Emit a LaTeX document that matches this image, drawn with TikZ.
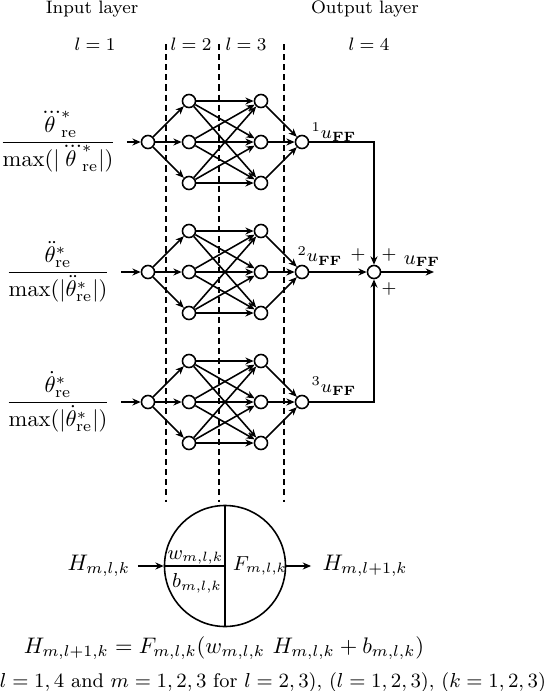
\documentclass[tikz,border=0pt]{standalone}
\usepackage{amsmath}
\usepackage{amssymb}
\usepackage{tikz}
\usetikzlibrary{arrows.meta,positioning,calc}

\begin{document}
\begin{tikzpicture}[x=0.015625cm, y=-0.015625cm,
  neuron/.style={draw, circle, line width=0.7pt, fill=white, inner sep=0pt, minimum size=5.8pt},
  ratio/.style={inner sep=0pt, anchor=base},
  layertxt/.style={font=\footnotesize},
  outlbl/.style={font=\footnotesize},
  pm/.style={font=\footnotesize, inner sep=0pt},
  cellbox/.style={draw, circle, line width=0.7pt, inner sep=0pt, minimum size=53.8pt},
  flow/.style={-{Stealth[length=1.3mm, width=1.1mm]}, line width=0.7pt},
  divider/.style={dash pattern=on 2.7pt off 1.8pt, line width=0.6pt},
  wire/.style={line width=0.7pt},
]
  \useasboundingbox (0,0) rectangle (548,691);

  % layer headings and dashed separators
  \node[layertxt] (inl) at (92,9) {Input layer};
  \node[layertxt] (outl) at (365,9) {Output layer};
  \node[layertxt] (l1) at (95,44) {$l=1$};
  \node[layertxt] (l2) at (191,44) {$l=2$};
  \node[layertxt] (l3) at (246,44) {$l=3$};
  \node[layertxt] (l4) at (369,44) {$l=4$};
  \foreach \x [count=\n] in {166,219,284} {
    \coordinate (top\n) at (\x,44);
    \coordinate (bot\n) at (\x,502);
    \draw[divider] (top\n) -- (bot\n);
  }

  % the three networks
  \foreach \k/\cy/\acc in {1/142/\dddot, 2/272/\ddot, 3/402/\dot} {
    \node[ratio] (x\k) at ([yshift=-2.5pt]58,\cy)
      {$\dfrac{\acc{\theta}^*_{\mathrm{re}}}{\max(|\acc{\theta}^*_{\mathrm{re}}|)}$};
    \node[neuron] (i\k) at (148,\cy) {};
    \foreach \j/\dy in {1/-41,2/0,3/41} {
      \node[neuron] (h\k\j) at (189,{\cy+\dy}) {};
      \node[neuron] (g\k\j) at (261,{\cy+\dy}) {};
    }
    \node[neuron] (o\k) at (302,\cy) {};
    \draw[flow] ([xshift=4.7pt]x\k.east |- i\k) -- (i\k);
    \foreach \j in {1,2,3} {
      \draw[flow] (i\k) -- (h\k\j);
      \draw[flow] (g\k\j) -- (o\k);
      \foreach \jj in {1,2,3}
        \draw[flow] (h\k\j) -- (g\k\jj);
    }
  }

  % summation
  \node[outlbl] (u1) at (334,132) {$^1u_{\mathbf{FF}}$};
  \node[outlbl] (u2) at (320,256) {$^2u_{\mathbf{FF}}$};
  \node[outlbl] (u3) at (334,386) {$^3u_{\mathbf{FF}}$};
  \node[neuron] (s) at (374,272) {};
  \draw[flow] (o1) -| (s);
  \draw[flow] (o2) -- (s);
  \draw[flow] (o3) -| (s);
  \coordinate (ue) at (434,272);
  \draw[flow] (s) -- (ue);
  \node[font=\small] (uff) at (422,261) {$u_{\mathbf{FF}}$};
  \node[pm] (p1) at (358,255) {$+$};
  \node[pm] (p2) at (389,255) {$+$};
  \node[pm] (p3) at (389,289) {$+$};

  % single neuron
  \node[cellbox] (cell) at (225,566) {};
  \draw[wire] (cell.north) -- (cell.south);
  \draw[wire] (cell.west) -- (cell.center);
  \node[font=\small, anchor=south east, inner sep=0.6pt] (w) at (cell.center) {$w_{m,l,k}$};
  \node[font=\small, anchor=north east, inner sep=1.2pt] (b) at ([yshift=-2pt]cell.center) {$b_{m,l,k}$};
  \node[font=\small, anchor=west] (F) at (cell.center) {$F_{m,l,k}$};
  \node[left=11.5pt of cell] (hin) {$H_{m,l,k}$};
  \node[right=11pt of cell, inner sep=4.9pt] (hout) {$H_{m,l+1,k}$};
  \draw[flow] (hin) -- (cell);
  \draw[flow] (cell) -- (hout);

  \node (eq) at (224,648) {$H_{m,l+1,k} = F_{m,l,k}(w_{m,l,k}\ H_{m,l,k} + b_{m,l,k})$};
  \node[font=\fontsize{8.8}{10}\selectfont] (rng) at (273,683) {$l=1,4$ and $m=1,2,3$ for $l=2,3$), ($l=1,2,3$), ($k=1,2,3$)};
\end{tikzpicture}
\end{document}
